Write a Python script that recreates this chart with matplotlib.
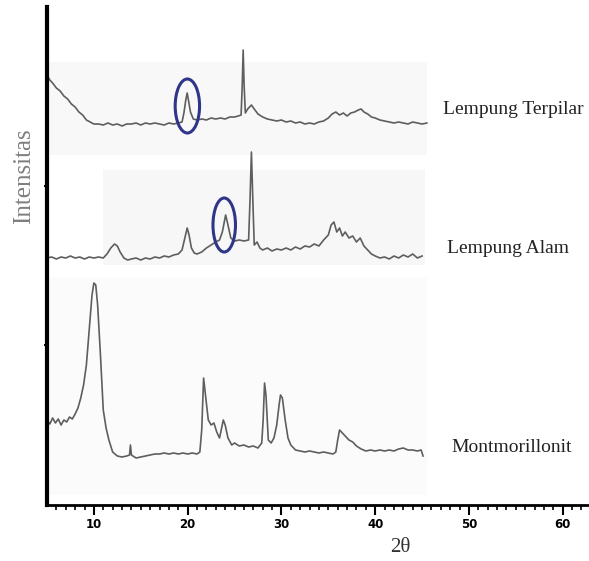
from matplotlib import pyplot
from matplotlib.patches import Ellipse, Rectangle

# 2-theta / intensity pairs (arbitrary units)
terpilar_2theta = [5.0, 5.3, 5.6, 6.0, 6.4, 6.8, 7.2, 7.6, 8.0, 8.4, 8.8, 9.2, 9.6, 10.0,
                   10.5, 11.0, 11.5, 12.0, 12.5, 13.0, 13.5, 14.0, 14.5, 15.0, 15.5, 16.0,
                   16.5, 17.0, 17.5, 18.0, 18.5, 19.0, 19.4, 19.6, 19.8, 19.95, 20.1, 20.3,
                   20.6, 21.0, 21.5, 22.0, 22.5, 23.0, 23.5, 24.0, 24.5, 25.0, 25.4, 25.7,
                   25.82, 25.92, 26.02, 26.15, 26.4, 26.8, 27.1, 27.5, 28.0, 28.5, 29.0,
                   29.5, 30.0, 30.5, 31.0, 31.5, 32.0, 32.5, 33.0, 33.5, 34.0, 34.5, 35.0,
                   35.4, 35.8, 36.2, 36.6, 37.0, 37.4, 37.8, 38.2, 38.5, 38.8, 39.2, 39.6,
                   40.0, 40.5, 41.0, 41.5, 42.0, 42.5, 43.0, 43.5, 44.0, 44.5, 45.0, 45.5]
terpilar_int = [430, 425, 422, 417, 414, 409, 406, 401, 398, 393, 390, 385, 383, 381,
                381, 380, 382, 380, 381, 379, 381, 381, 382, 380, 382, 381,
                382, 381, 380, 382, 381, 382, 383, 392, 405, 412, 404, 393,
                386, 385, 386, 385, 387, 386, 387, 386, 388, 388, 389, 390,
                420, 455, 420, 392, 396, 400, 396, 391, 388, 386, 385,
                384, 385, 383, 384, 382, 383, 381, 382, 381, 383, 384, 387,
                391, 393, 390, 392, 389, 392, 393, 395, 396, 393, 391, 388,
                387, 385, 384, 383, 382, 383, 382, 381, 383, 382, 381, 382]

alam_2theta = [5.0, 5.5, 6.0, 6.5, 7.0, 7.5, 8.0, 8.5, 9.0, 9.5, 10.0, 10.5, 11.0, 11.4,
               11.8, 12.2, 12.5, 12.8, 13.2, 13.6, 14.0, 14.5, 15.0, 15.5, 16.0, 16.5,
               17.0, 17.5, 18.0, 18.5, 19.0, 19.4, 19.7, 19.95, 20.15, 20.4, 20.7, 21.0,
               21.5, 22.0, 22.5, 23.0, 23.4, 23.7, 24.05, 24.3, 24.6, 25.0, 25.5, 26.0,
               26.5, 26.65, 26.8, 26.95, 27.1, 27.4, 27.7, 28.0, 28.5, 29.0, 29.5, 30.0,
               30.5, 31.0, 31.5, 32.0, 32.5, 33.0, 33.5, 34.0, 34.5, 35.0, 35.3, 35.6,
               35.9, 36.2, 36.5, 36.8, 37.2, 37.6, 38.0, 38.4, 38.8, 39.2, 39.6, 40.0,
               40.5, 41.0, 41.5, 42.0, 42.5, 43.0, 43.5, 44.0, 44.5, 45.0]
alam_int = [247, 248, 246, 248, 247, 249, 247, 248, 246, 248, 247, 248, 247, 251,
            257, 261, 259, 253, 247, 245, 246, 247, 245, 247, 246, 248,
            247, 249, 248, 250, 251, 255, 267, 277, 270, 257, 252, 251,
            253, 257, 260, 263, 265, 273, 290, 280, 267, 264, 265, 264,
            265, 305, 353, 305, 260, 263, 257, 255, 257, 254, 256, 255,
            257, 255, 258, 256, 259, 258, 261, 259, 265, 270, 280, 283,
            273, 277, 269, 273, 267, 269, 263, 267, 259, 255, 251, 249,
            247, 248, 246, 249, 247, 250, 248, 251, 247, 249]

montmo_2theta = [5.0, 5.3, 5.6, 5.9, 6.2, 6.5, 6.8, 7.1, 7.4, 7.7, 8.0, 8.3, 8.6, 8.9,
                 9.2, 9.5, 9.8, 10.0, 10.2, 10.4, 10.7, 11.0, 11.3, 11.6, 12.0, 12.5,
                 13.0, 13.5, 13.8, 13.9, 14.0, 14.5, 15.0, 15.5, 16.0, 16.5, 17.0, 17.5,
                 18.0, 18.5, 19.0, 19.5, 20.0, 20.5, 21.0, 21.3, 21.5, 21.7, 21.9, 22.2,
                 22.5, 22.8, 23.1, 23.4, 23.8, 24.0, 24.3, 24.7, 25.0, 25.5, 26.0, 26.5,
                 27.0, 27.5, 27.9, 28.05, 28.2, 28.35, 28.6, 28.9, 29.2, 29.5, 29.75,
                 29.9, 30.1, 30.4, 30.7, 31.0, 31.5, 32.0, 32.5, 33.0, 33.5, 34.0, 34.5,
                 35.0, 35.5, 35.8, 36.0, 36.2, 36.5, 36.8, 37.2, 37.6, 38.0, 38.5, 39.0,
                 39.5, 40.0, 40.5, 41.0, 41.5, 42.0, 42.5, 43.0, 43.5, 44.0, 44.5, 44.9,
                 45.1]
montmo_int = [85, 81, 87, 82, 86, 80, 85, 83, 88, 86, 91, 97, 107, 120,
              140, 175, 210, 222, 220, 200, 150, 95, 77, 65, 53, 49,
              48, 49, 50, 60, 50, 47, 48, 49, 50, 51, 51, 52,
              51, 52, 51, 52, 51, 52, 51, 53, 75, 127, 110, 85,
              80, 82, 73, 67, 85, 80, 67, 60, 62, 59, 60, 58,
              59, 57, 62, 85, 122, 110, 65, 62, 67, 80, 100,
              110, 107, 85, 67, 60, 55, 54, 53, 54, 53, 52, 53,
              52, 51, 53, 65, 75, 72, 69, 65, 63, 59, 56, 54,
              55, 54, 55, 54, 55, 54, 56, 57, 55, 55, 54, 55,
              49]

traces = [
    (terpilar_2theta, terpilar_int, "Lempung Terpilar", 443, 110),
    (alam_2theta, alam_int, "Lempung Alam", 447, 248),
    (montmo_2theta, montmo_int, "Montmorillonit", 451, 448),
]

W, H = 589, 561
LINE = "#5e5e5e"
NAVY = "#2f3588"

figure = pyplot.figure(figsize=(W / 100, H / 100), dpi=100)
axis = figure.add_axes([47 / W, 1 - 505 / H, 1 - 47 / W, (505 - 7) / H])
axis.set_xlim(5, 62.8)
axis.set_ylim(0, 498)

# faint grey patches left over from the scanned panels
axis.add_patch(Rectangle((5.2, 350), 40.3, 93, color="#f8f8f8", lw=0, zorder=0))
axis.add_patch(Rectangle((11.0, 240), 34.3, 95, color="#f7f7f7", lw=0, zorder=0))
axis.add_patch(Rectangle((5.2, 10), 40.3, 218, color="#fbfbfb", lw=0, zorder=0))

for x, y, name, px, py in traces:
    axis.plot(x, y, color=LINE, lw=1.2, zorder=2)
    figure.text(px / W, 1 - py / H, name, fontsize=14, family="Liberation Serif",
                color="#222222", va="center", ha="left")

axis.add_patch(Ellipse((19.97, 399), 2.6, 54, fill=False, ec=NAVY, lw=2.2, zorder=3))
axis.add_patch(Ellipse((23.9, 280), 2.4, 54, fill=False, ec=NAVY, lw=2.2, zorder=3))

axis.spines["right"].set_visible(False)
axis.spines["top"].set_visible(False)
axis.spines["left"].set_linewidth(3)
axis.spines["bottom"].set_linewidth(2)

axis.set_xticks([10, 20, 30, 40, 50, 60])
axis.set_xticks(range(6, 63), minor=True)
axis.tick_params(axis="x", which="major", length=7, width=1.5, labelsize=8.5, pad=2)
axis.tick_params(axis="x", which="minor", length=3.5, width=1.2)
for label in axis.get_xticklabels():
    label.set_fontweight("bold")
axis.set_yticks([160, 319])
axis.set_yticklabels([])
axis.tick_params(axis="y", length=2, width=1.5)

figure.text(400 / W, 1 - 548 / H, "2θ", fontsize=15, family="Liberation Serif",
            color="#333333", ha="center", va="center")
figure.text(24 / W, 1 - 176 / H, "Intensitas", fontsize=18, family="Liberation Serif",
            color="#7f7f7f", rotation=90, ha="center", va="center")

figure.set_facecolor("white")
figure.savefig("out.png", dpi=100)
